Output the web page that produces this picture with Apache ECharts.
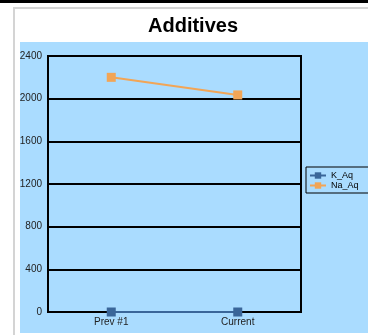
<!DOCTYPE html>
<html>
<head>
<meta charset="utf-8">
<script src="https://cdn.jsdelivr.net/npm/echarts@6/dist/echarts.min.js"></script>
<style>
  html, body { margin: 0; padding: 0; background: #fff; }
  #chart { width: 368px; height: 335px; }
</style>
</head>
<body>
<div id="chart"></div>
<script>
// data
var categories = ['Prev #1', 'Current']
var kAq = [0, 0]
var naAq = [2200, 2035]
var yTicks = { min: 0, max: 2400, step: 400 }

var chart = echarts.init(document.getElementById('chart'))
chart.setOption({
  animation: false,
  title: {
    text: 'Additives',
    left: 148,
    top: 16,
    padding: 0,
    textStyle: { fontFamily: 'Liberation Sans, Arial', fontSize: 20, fontWeight: 'bold', color: '#000' }
  },
  graphic: [
    // top black strip, frame lines and blue plot background
    { type: 'rect', z: -10, shape: { x: 0, y: 0, width: 368, height: 3 }, style: { fill: '#000' } },
    { type: 'rect', z: -10, shape: { x: 13, y: 7, width: 355, height: 2 }, style: { fill: '#d4d4d4' } },
    { type: 'rect', z: -10, shape: { x: 13, y: 7, width: 2, height: 328 }, style: { fill: '#d4d4d4' } },
    { type: 'rect', z: -10, shape: { x: 20, y: 42, width: 348, height: 291 }, style: { fill: '#aadcff' } }
  ],
  legend: {
    orient: 'vertical',
    left: 306,
    top: 167,
    padding: [4, 20, 3, 3],
    itemGap: 1,
    itemWidth: 16,
    itemHeight: 8,
    borderColor: '#000',
    borderWidth: 1,
    textStyle: { fontFamily: 'Liberation Sans, Arial', fontSize: 9, color: '#000' },
    data: ['K_Aq', 'Na_Aq']
  },
  grid: { left: 48, top: 56, right: 67, bottom: 23, show: true, borderColor: '#000', borderWidth: 2 },
  xAxis: {
    type: 'category',
    data: categories,
    axisLine: { lineStyle: { color: '#000', width: 2 } },
    axisTick: { show: false },
    axisLabel: { fontFamily: 'Liberation Sans, Arial', fontSize: 10, color: '#222', margin: 5 }
  },
  yAxis: {
    type: 'value',
    min: yTicks.min,
    max: yTicks.max,
    interval: yTicks.step,
    axisLine: { show: true, lineStyle: { color: '#000', width: 2 } },
    axisTick: { show: false },
    splitLine: { lineStyle: { color: '#000', width: 2 } },
    axisLabel: {
      fontFamily: 'Liberation Sans, Arial', fontSize: 10, color: '#222', margin: 6,
      formatter: function (v) { return String(v) }
    }
  },
  series: [
    {
      name: 'K_Aq',
      type: 'line',
      data: kAq,
      symbol: 'rect',
      symbolSize: 9,
      color: '#3a6699',
      lineStyle: { width: 2 },
      z: 5
    },
    {
      name: 'Na_Aq',
      type: 'line',
      data: naAq,
      symbol: 'rect',
      symbolSize: 9,
      color: '#f2a556',
      lineStyle: { width: 2 },
      z: 5
    }
  ]
})
</script>
</body>
</html>
